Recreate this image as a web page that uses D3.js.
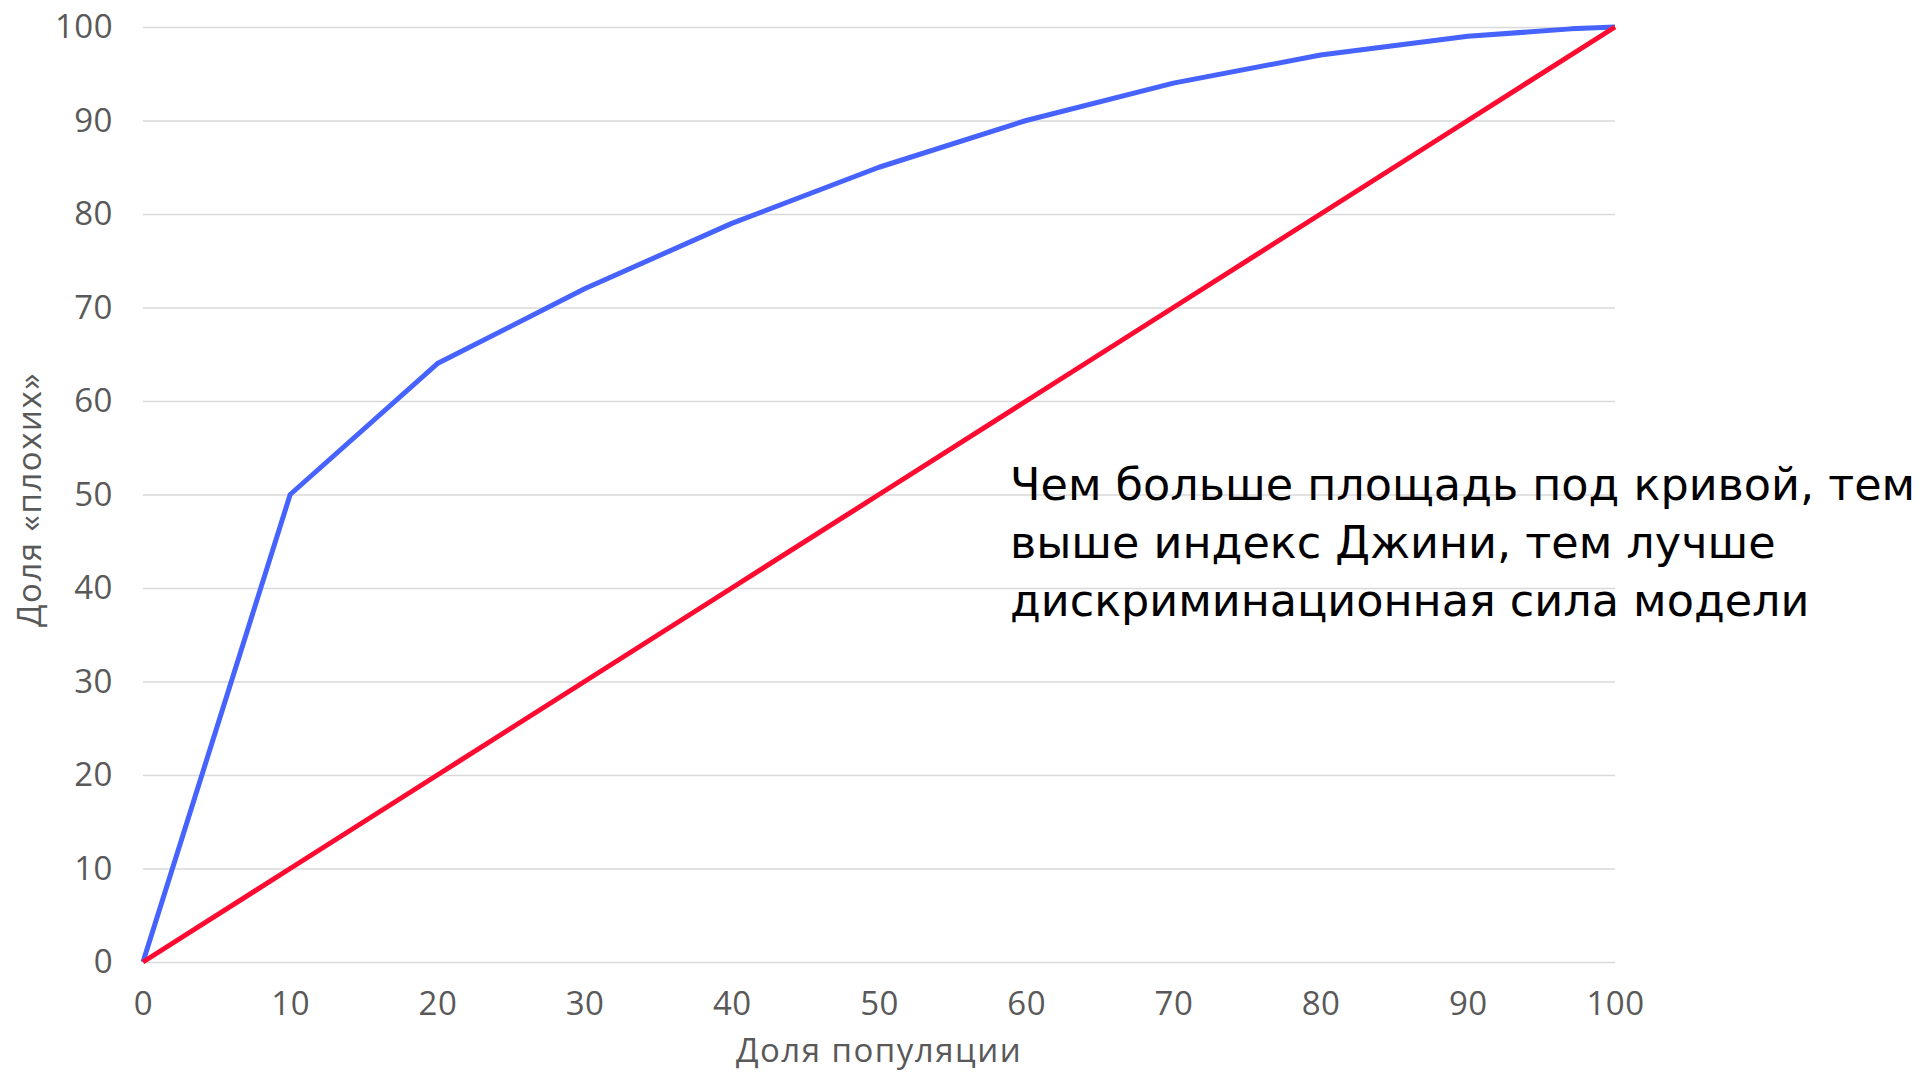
<!DOCTYPE html>
<html>
<head>
<meta charset="utf-8">
<script src="https://cdn.jsdelivr.net/npm/d3@7"></script>
<style>
  body { margin: 0; background: #fff; }
</style>
</head>
<body>
<svg></svg>
<script>
// x: доля популяции, y: доля «плохих»
const popShare = [0, 10, 20, 30, 40, 50, 60, 70, 80, 90, 97, 100];
const badShare = [0, 50, 64, 72, 79, 85, 90, 94, 97, 99, 99.8, 100];
const diagX = [0, 10, 20, 30, 40, 50, 60, 70, 80, 90, 100];
const diagY = [0, 10, 20, 30, 40, 50, 60, 70, 80, 90, 100];
const ticks = [0, 10, 20, 30, 40, 50, 60, 70, 80, 90, 100];
const noteLines = [
  "Чем больше площадь под кривой, тем",
  "выше индекс Джини, тем лучше",
  "дискриминационная сила модели"
];

const width = 1929;
const height = 1074;
const plotLeft = 143, plotRight = 1615, plotTop = 27, plotBottom = 962;

// Scales
const xScale = d3.scaleLinear().domain([0, 100]).range([plotLeft, plotRight]);
const yScale = d3.scaleLinear().domain([0, 100]).range([plotBottom, plotTop]);

const svg = d3.select("svg")
    .attr("width", width)
    .attr("height", height);

// Grid + y labels
const yAxis = d3.axisLeft(yScale)
    .tickValues(ticks)
    .tickSize(-(plotRight - plotLeft))
    .tickPadding(30)
    .tickFormat(d3.format("d"));

const gy = svg.append("g")
    .attr("transform", `translate(${plotLeft}, 0)`)
    .call(yAxis);
gy.select(".domain").remove();
gy.selectAll(".tick line").attr("stroke", "#d9d9d9").attr("stroke-width", 1.6);
gy.selectAll(".tick text")
    .attr("fill", "#595959")
    .attr("font-family", "Open Sans, sans-serif")
    .attr("font-size", 33)
    .attr("letter-spacing", 0.5);

// x labels
const xAxis = d3.axisBottom(xScale)
    .tickValues(ticks)
    .tickSize(0)
    .tickPadding(30)
    .tickFormat(d3.format("d"));

const gx = svg.append("g")
    .attr("transform", `translate(0, ${plotBottom})`)
    .call(xAxis);
gx.select(".domain").remove();
gx.selectAll(".tick text")
    .attr("fill", "#595959")
    .attr("font-family", "Open Sans, sans-serif")
    .attr("font-size", 33)
    .attr("letter-spacing", 0.5);

// Lines
const line = d3.line()
    .x(d => xScale(d[0]))
    .y(d => yScale(d[1]));

svg.append("path")
    .datum(d3.zip(popShare, badShare))
    .attr("d", line)
    .attr("fill", "none")
    .attr("stroke", "#4763ff")
    .attr("stroke-width", 5)
    .attr("stroke-linejoin", "round");

svg.append("path")
    .datum(d3.zip(diagX, diagY))
    .attr("d", line)
    .attr("fill", "none")
    .attr("stroke", "#ff0a30")
    .attr("stroke-width", 5);

// Axis titles
svg.append("text")
    .text("Доля популяции")
    .attr("x", (plotLeft + plotRight) / 2)
    .attr("y", 1062)
    .attr("text-anchor", "middle")
    .attr("fill", "#595959")
    .attr("font-family", "Open Sans, sans-serif")
    .attr("font-size", 33)
    .attr("letter-spacing", 1.5);

svg.append("text")
    .text("Доля «плохих»")
    .attr("transform", `translate(41, ${(plotTop + plotBottom) / 2 + 5}) rotate(-90)`)
    .attr("text-anchor", "middle")
    .attr("fill", "#595959")
    .attr("font-family", "Open Sans, sans-serif")
    .attr("font-size", 33)
    .attr("letter-spacing", 1.5);

// Note
svg.append("text")
    .attr("font-family", "DejaVu Sans, sans-serif")
    .attr("font-size", 44.5)
    .attr("fill", "#000")
  .selectAll("tspan")
  .data(noteLines)
  .enter()
  .append("tspan")
    .attr("x", 1010)
    .attr("y", (d, i) => 500 + i * 58)
    .text(d => d);
</script>
</body>
</html>
